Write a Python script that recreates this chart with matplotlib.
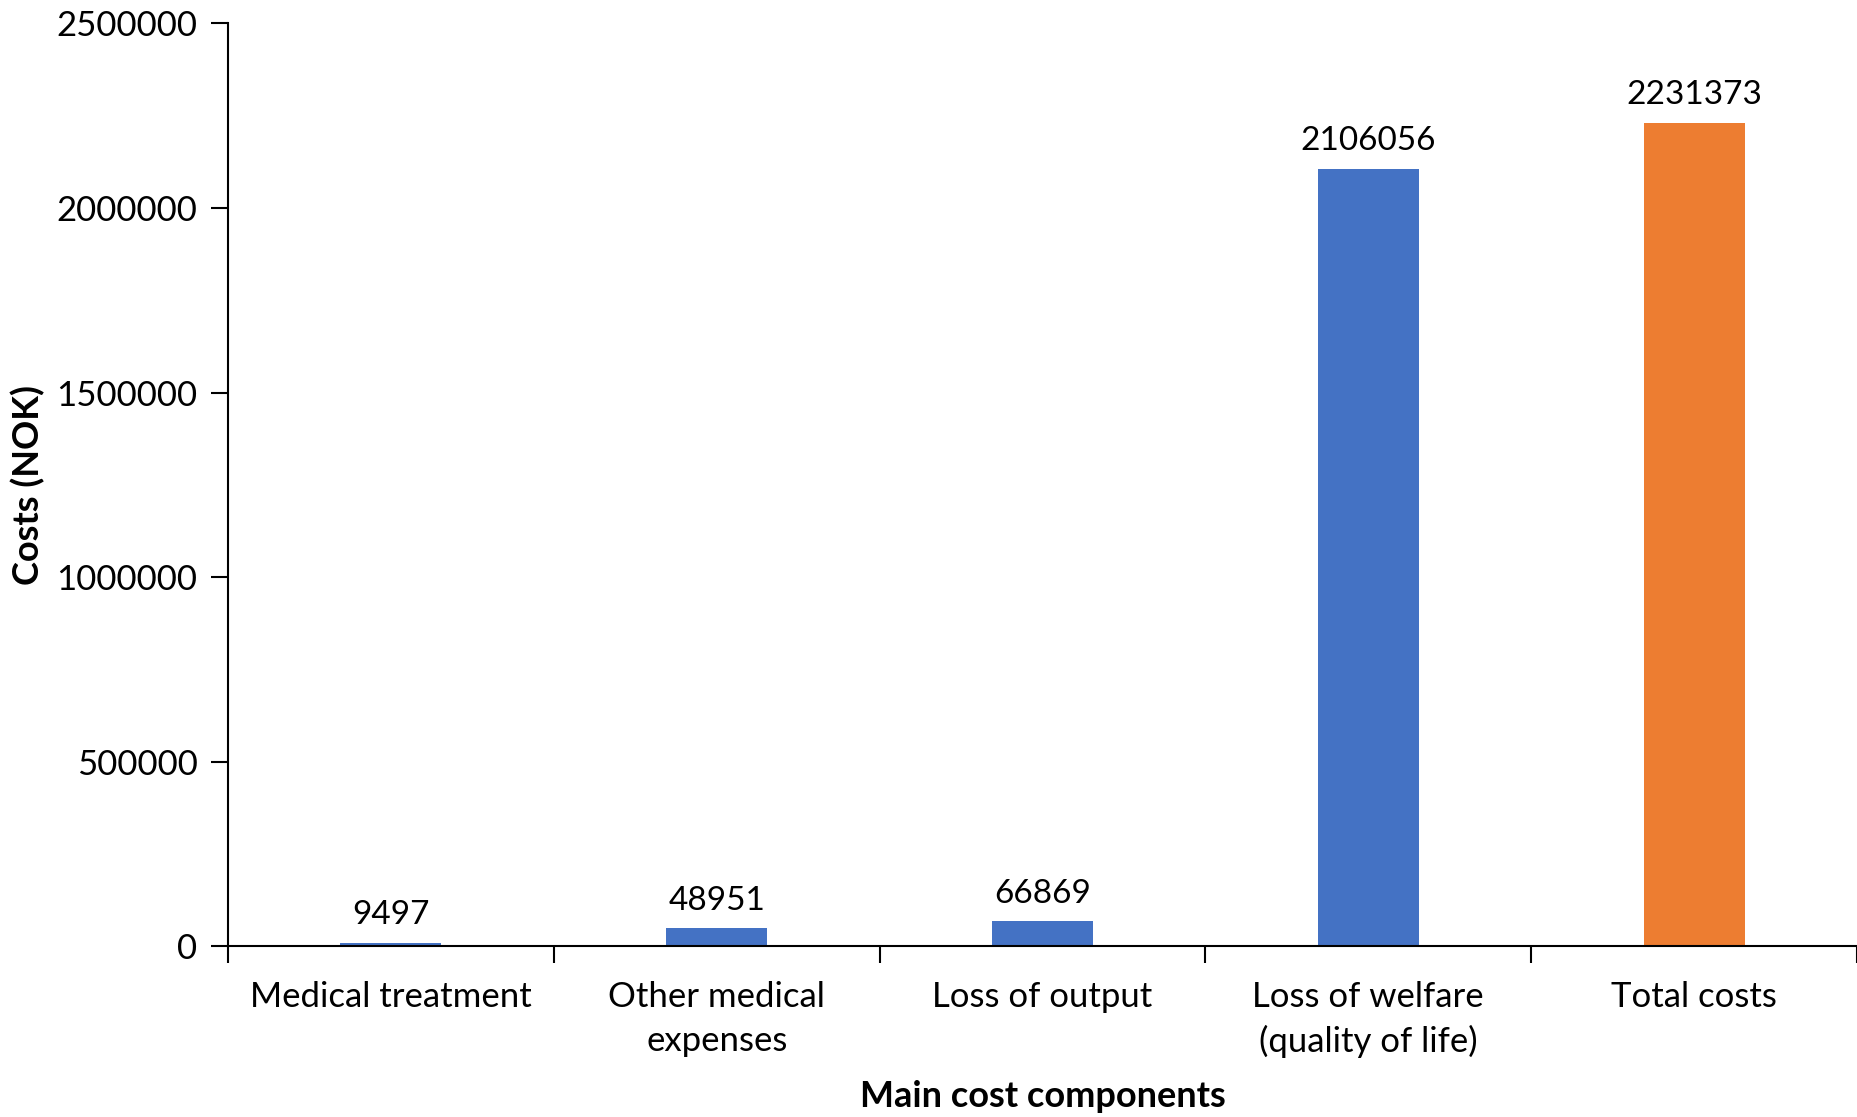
import numpy as np
import matplotlib.pyplot as plt

plt.rcParams['font.family'] = ['Lato', 'DejaVu Sans']

categories = ["Medical treatment", "Other medical\nexpenses", "Loss of output",
              "Loss of welfare\n(quality of life)", "Total costs"]
costs = [9497, 48951, 66869, 2106056, 2231373]
bar_colors = ["#4472C4", "#4472C4", "#4472C4", "#4472C4", "#ED7D31"]
y_ticks = [0, 500000, 1000000, 1500000, 2000000, 2500000]

fig = plt.figure(figsize=(18.57, 11.17), dpi=100)
ax = fig.add_axes([0.1228, 0.153, 0.8772, 0.826])

x = np.arange(len(categories))
bars = ax.bar(x, costs, width=0.31, color=bar_colors, zorder=2)

for b, v in zip(bars, costs):
    ax.annotate(str(v), (b.get_x() + b.get_width() / 2, v),
                xytext=(0, 9), textcoords="offset points",
                ha="center", va="bottom", fontsize=24)

ax.set_xlim(-0.5, len(categories) - 0.5)
ax.set_ylim(0, 2500000)
ax.set_yticks(y_ticks)
ax.set_yticklabels([str(t) for t in y_ticks])

# Excel style: tick marks between categories, labels at the centres
ax.set_xticks(np.arange(-0.5, len(categories)), labels=[])
ax.set_xticks(x, labels=categories, minor=True)
for lbl in ax.get_xticklabels(minor=True):
    lbl.set_linespacing(1.45)
ax.tick_params(axis="x", which="major", length=12, width=1.5, direction="out")
ax.tick_params(axis="x", which="minor", length=0, pad=25, labelsize=25)
ax.tick_params(axis="y", length=12, width=1.5, direction="out", pad=10, labelsize=25)

for s in ["top", "right"]:
    ax.spines[s].set_visible(False)
for s in ["left", "bottom"]:
    ax.spines[s].set_linewidth(1.5)
    ax.spines[s].set_color("black")

ax.set_xlabel("Main cost components", fontsize=26, fontweight="bold", labelpad=16)
ax.set_ylabel("Costs (NOK)", fontsize=26, fontweight="bold", labelpad=8)

fig.savefig("out.png", dpi=100)
